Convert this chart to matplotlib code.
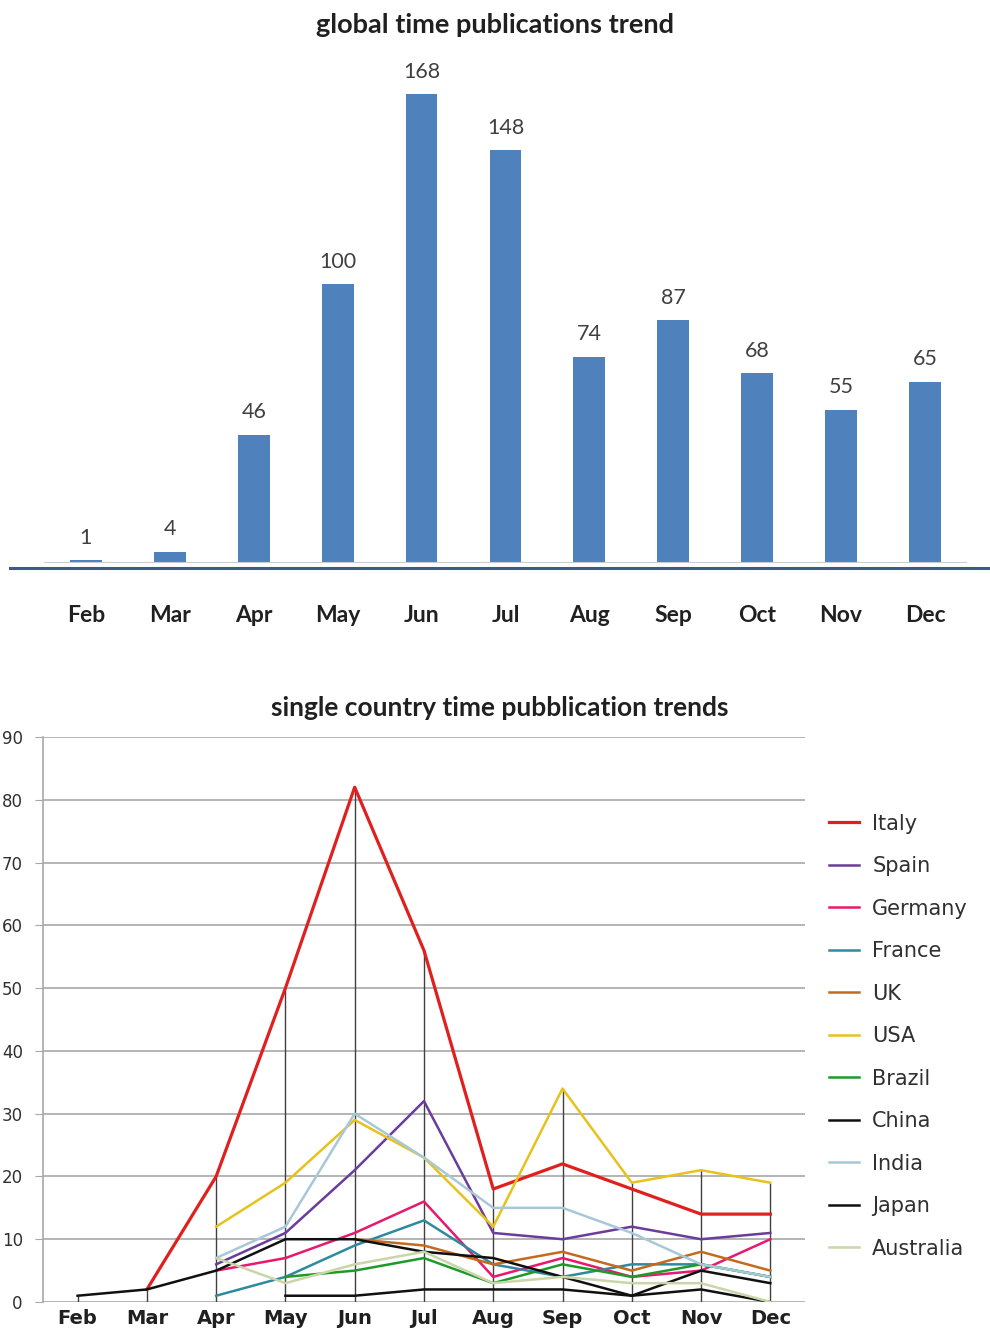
import matplotlib
matplotlib.use("Agg")
import matplotlib.pyplot as plt
import numpy as np

nan = np.nan

months = ['Feb', 'Mar', 'Apr', 'May', 'Jun', 'Jul', 'Aug', 'Sep', 'Oct', 'Nov', 'Dec']
global_counts = [1, 4, 46, 100, 168, 148, 74, 87, 68, 55, 65]

italy = [nan, 2, 20, 50, 82, 56, 18, 22, 18, 14, 14]
spain = [nan, nan, 6, 11, 21, 32, 11, 10, 12, 10, 11]
germany = [nan, nan, 5, 7, 11, 16, 4, 7, 4, 5, 10]
france = [nan, nan, 1, 4, 9, 13, 6, 4, 6, 6, 4]
uk = [nan, nan, nan, nan, 10, 9, 6, 8, 5, 8, 5]
usa = [nan, nan, 12, 19, 29, 23, 12, 34, 19, 21, 19]
brazil = [nan, nan, nan, 4, 5, 7, 3, 6, 4, 6, 4]
china = [1, 2, 5, 10, 10, 8, 7, 4, 1, 5, 3]
india = [nan, nan, 7, 12, 30, 23, 15, 15, 11, 6, 4]
japan = [nan, nan, nan, 1, 1, 2, 2, 2, 1, 2, 0]
australia = [nan, nan, 7, 3, 6, 8, 3, 4, 3, 3, 0]

countries = ['Italy', 'Spain', 'Germany', 'France', 'UK', 'USA',
             'Brazil', 'China', 'India', 'Japan', 'Australia']
series = [italy, spain, germany, france, uk, usa, brazil, china, india, japan, australia]
colors = ['#E0201E', '#6A3D9A', '#E8186E', '#2E8A9E', '#C46A1E', '#E8C21C',
          '#1E9A2A', '#101010', '#A8C8D8', '#101010', '#C8D6A8']

fig = plt.figure(figsize=(9.9, 13.38), dpi=100)
x = np.arange(len(months))

# ---- top: global bars ----
ax1 = fig.add_axes([0.0444, 0.5792, 0.9323, 0.3752])
ax1.bar(x, global_counts, width=0.38, color='#4F81BD')
for xi, v in zip(x, global_counts):
    ax1.text(xi, v + 4.5, str(v), ha='center', va='bottom', fontsize=15.5,
             color='#404040', family='Lato')
ax1.set_xlim(-0.5, 10.5)
ax1.set_ylim(0, 180)
for s in ax1.spines.values():
    s.set_visible(False)
ax1.axhline(0, color='#C8CCD4', lw=1.5)
ax1.plot([-0.9, 10.75], [-1.8, -1.8], color='#3C5A85', lw=2.2, clip_on=False)
ax1.set_yticks([])
ax1.set_xticks(x)
ax1.set_xticklabels(months, fontsize=16.5, fontweight='bold', family='Lato', color='#202020')
ax1.tick_params(axis='x', length=0, pad=30)
fig.text(0.5, 0.981, 'global time publications trend', ha='center', va='center',
         fontsize=19.5, fontweight='bold', family='Lato', color='#202020')

# ---- bottom: per-country lines ----
ax2 = fig.add_axes([0.0434, 0.0269, 0.7697, 0.4223])
data = np.array(series, dtype=float)
ax2.vlines(x, 0, np.nanmax(data, axis=0), color='#404040', lw=1.0, zorder=2)
for name, vals, c in zip(countries, series, colors):
    lw = 2.3 if name == 'Italy' else 1.8
    ax2.plot(x, vals, color=c, lw=lw, label=name, zorder=3)
ax2.set_xlim(-0.5, 10.5)
ax2.set_ylim(0, 90)
ax2.set_yticks(range(0, 91, 10))
ax2.grid(axis='y', color='#A8A8A8', lw=1.2)
ax2.set_axisbelow(True)
for k in ['top', 'right', 'bottom']:
    ax2.spines[k].set_visible(False)
ax2.spines['left'].set_color('#A8A8A8')
ax2.spines['left'].set_linewidth(1.2)
ax2.set_xticks(x)
ax2.set_xticklabels(months, fontsize=14, fontweight='bold', color='#202020')
ax2.tick_params(axis='x', length=0, pad=5)
ax2.tick_params(axis='y', length=6, color='#A8A8A8', pad=8.5, labelsize=12, labelcolor='#303030')
fig.text(0.505, 0.4705, 'single country time pubblication trends', ha='center', va='center',
         fontsize=19, fontweight='bold', family='Lato', color='#202020')

handles, labels = ax2.get_legend_handles_labels()
fig.legend(handles, labels, loc='upper left', bbox_to_anchor=(0.818, 0.406),
           frameon=False, fontsize=15, handlelength=1.45, handletextpad=0.65,
           labelspacing=1.08, labelcolor='#303030')

fig.savefig('out.png', dpi=100, facecolor='white')
